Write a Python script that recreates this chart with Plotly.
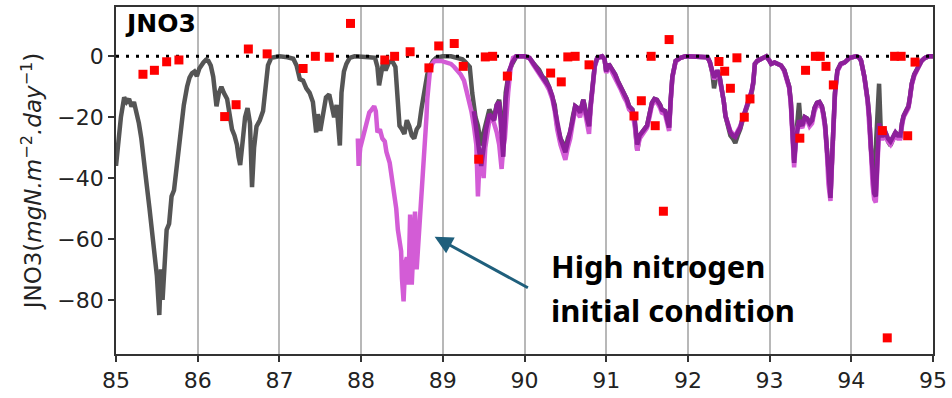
import plotly.graph_objects as go

# ---- Base run (grey): 85 -> ~89.9, then shared late-period grid ----
GREY_X_EARLY = [
    85.00, 85.03, 85.06, 85.10, 85.13, 85.16, 85.19, 85.22, 85.25, 85.28,
    85.31, 85.34, 85.375, 85.41, 85.44, 85.47, 85.50, 85.53, 85.55, 85.57,
    85.59, 85.62, 85.65, 85.68, 85.71, 85.74, 85.77, 85.80, 85.83, 85.87,
    85.90, 85.93, 85.96, 85.99, 86.02, 86.07, 86.10, 86.13, 86.16, 86.19,
    86.21, 86.23, 86.26, 86.29, 86.32, 86.36, 86.39, 86.42, 86.45, 86.48,
    86.50, 86.52, 86.55, 86.58, 86.61, 86.64, 86.665, 86.69, 86.72, 86.76,
    86.80, 86.83, 86.86, 86.90, 86.95, 87.00, 87.10, 87.17, 87.21, 87.25,
    87.29, 87.33, 87.37, 87.41, 87.45, 87.47, 87.50, 87.53, 87.57, 87.61,
    87.65, 87.67, 87.70, 87.72, 87.74, 87.76, 87.79, 87.82, 87.86, 87.92,
    88.00, 88.10, 88.17, 88.20, 88.22, 88.25, 88.27, 88.30, 88.34, 88.38,
    88.42, 88.45, 88.47, 88.50, 88.53, 88.56, 88.59, 88.62, 88.65, 88.68,
    88.71, 88.74, 88.78, 88.81, 88.84, 88.88, 88.92, 89.00, 89.10, 89.20,
    89.24, 89.28, 89.33, 89.36, 89.40, 89.43, 89.47, 89.50, 89.53, 89.57,
    89.60, 89.63, 89.66, 89.69, 89.72, 89.74, 89.77, 89.81, 89.85,
]
GREY_Y_EARLY = [
    -36, -28, -20, -13.5, -15, -14, -16.5, -15, -18, -22,
    -27, -33, -42, -50, -57, -65, -72, -85, -70, -80,
    -68, -57, -55, -46, -44, -38, -30, -23, -16, -10,
    -7, -5.6, -5, -6.5, -4, -2, -1.2, -1.5, -3, -6.7,
    -12, -16.4, -12, -10, -12, -14, -19, -24, -26, -29,
    -33, -35.7, -28, -20, -17, -22, -43, -30, -23, -21,
    -18, -10, -3, -0.5, -0.2, 0, -0.3, -0.8, -3, -7.5,
    -8, -10.5, -12, -15, -25, -19, -24.5, -20, -13.5, -12.5,
    -17, -20, -16, -22, -29.3, -12, -5, -2.5, -0.5, 0,
    0, -0.3, -0.5, -3.5, -9.5, -5, -2, -4.6, -2, -1.5,
    -3.5, -15, -22.8, -24, -25.5, -21, -23, -26, -27, -24,
    -22.8, -17, -10, -6, -3.5, -1.5, -0.5, 0, 0, -0.5,
    -1, -2, -3.5, -12, -20, -22.8, -29.3, -25, -21, -17.5,
    -19, -19.6, -16, -14.3, -22, -29.3, -12, -5, -2.5,
]

# ---- High nitrogen initial condition run (orchid), before the shared grid ----
HIGHN_X_EARLY = [
    87.96, 87.97, 87.99, 88.02, 88.04, 88.07, 88.10, 88.13, 88.16, 88.18,
    88.20, 88.23, 88.26, 88.29, 88.31, 88.35, 88.38, 88.41, 88.43, 88.45,
    88.47, 88.49, 88.50, 88.52, 88.54, 88.56, 88.58, 88.60, 88.62, 88.64,
    88.66, 88.68, 88.70, 88.72, 88.74, 88.76, 88.78, 88.80, 88.81, 88.84,
    88.87, 88.90, 88.98, 89.04, 89.10, 89.14, 89.18, 89.22, 89.26, 89.29,
    89.32, 89.35, 89.38, 89.41, 89.43, 89.45, 89.48, 89.50, 89.52, 89.54,
    89.57, 89.60, 89.63, 89.66, 89.69, 89.72, 89.74, 89.76, 89.80, 89.83,
    89.86,
]
HIGHN_Y_EARLY = [
    -27, -36, -30, -27, -25, -21, -18.5, -17.5, -16.4, -18,
    -25, -24, -27, -28, -31.4, -35, -40, -46.4, -50, -57,
    -60, -64, -73, -80.5, -68, -66, -75, -52, -75, -60,
    -51, -70, -62, -55, -46, -40, -30, -20, -14, -5.6,
    -2.5, -1.5, -1.5, -2, -2.5, -3.5, -4.6, -6, -8, -11,
    -14.3, -18, -22.8, -29, -46, -34, -33.5, -40, -30, -27,
    -21, -19.6, -22, -25, -29, -37, -30, -27, -12, -4,
    -0.5,
]

# ---- Second run (purple), before the shared grid ----
PURPLE_X_EARLY = [
    89.38, 89.41, 89.44, 89.47, 89.50, 89.53, 89.57, 89.60, 89.63, 89.66,
    89.69, 89.72, 89.74, 89.77, 89.81, 89.85,
]
PURPLE_Y_EARLY = [
    -18, -24, -31, -36, -30, -24, -19, -20, -21, -16,
    -15, -26, -33, -14, -5, -2,
]

# ---- Shared time grid for 89.9 -> 95 ----
LATE_X = [
    89.90, 90.00, 90.06, 90.10, 90.14, 90.18, 90.22, 90.26, 90.30, 90.34,
    90.37, 90.40, 90.44, 90.48, 90.50, 90.53, 90.56, 90.59, 90.62, 90.65,
    90.68, 90.72, 90.75, 90.79, 90.81, 90.83, 90.86, 90.89, 90.95, 90.98,
    91.00, 91.03, 91.08, 91.11, 91.14, 91.18, 91.22, 91.25, 91.28, 91.32,
    91.35, 91.38, 91.41, 91.44, 91.47, 91.50, 91.53, 91.56, 91.59, 91.62,
    91.66, 91.68, 91.72, 91.75, 91.77, 91.79, 91.81, 91.85, 91.91, 91.97,
    92.10, 92.24, 92.27, 92.30, 92.32, 92.34, 92.36, 92.39, 92.42, 92.44,
    92.46, 92.49, 92.52, 92.55, 92.58, 92.61, 92.64, 92.67, 92.70, 92.73,
    92.76, 92.78, 92.80, 92.82, 92.85, 92.88, 92.96, 93.00, 93.02, 93.06,
    93.10, 93.14, 93.18, 93.21, 93.24, 93.26, 93.28, 93.30, 93.32, 93.34,
    93.36, 93.38, 93.40, 93.43, 93.46, 93.49, 93.52, 93.55, 93.58, 93.61,
    93.64, 93.66, 93.68, 93.70, 93.72, 93.745, 93.77, 93.80, 93.83, 93.87,
    93.92, 93.98, 94.06, 94.10, 94.12, 94.16, 94.20, 94.22, 94.24, 94.26,
    94.28, 94.30, 94.32, 94.34, 94.36, 94.39, 94.42, 94.45, 94.48, 94.51,
    94.54, 94.57, 94.60, 94.62, 94.64, 94.67, 94.70, 94.72, 94.74, 94.77,
    94.80, 94.83, 94.86, 94.90, 94.95, 95.00,
]
GREY_Y_LATE = [
    0, 0, -0.5, -2, -3.5, -4.5, -6.7, -7.5, -10, -13,
    -16, -22.8, -27, -29, -31, -27, -25, -20, -16.4, -17,
    -18.5, -14.3, -18, -22.8, -16, -9, -3, -0.5, 0, -1,
    -5, -2.5, -4.6, -6, -8, -10, -12.5, -14, -16.4, -17.5,
    -22, -31, -26, -25, -24, -22.8, -19, -15.3, -14, -14.3,
    -16, -17.5, -18, -22, -23.4, -14, -6.7, -1.5, -0.5, 0,
    0, -0.3, -2, -5.6, -10.5, -6, -4.6, -7, -11, -15,
    -19.6, -23, -26, -27, -28.5, -26, -24, -21, -18.5, -16,
    -14.3, -12, -9, -2.5, -1.5, -1, 0, -1.5, -2.5, -2,
    -2.5, -3, -4.6, -7, -10, -15, -22.8, -34, -28, -22.8,
    -15.3, -22, -22.8, -20, -20.5, -22, -21, -17, -15.3, -15,
    -16.4, -19, -22.8, -30, -40, -46, -30, -12, -4.6, -2.5,
    -2, -0.5, 0, -0.5, -1.5, -6.7, -14.3, -20, -30, -38,
    -44, -30, -18, -9, -24, -26, -25, -28, -29.3, -27,
    -25, -26, -27, -22, -19.6, -18, -16.4, -13, -9, -6,
    -4.6, -3, -1.5, -0.5, 0, 0,
]
PURPLE_Y_LATE = [
    0, 0, -0.5, -2, -3.5, -5, -6.7, -8, -10, -13,
    -17, -22.8, -27, -30, -31.5, -28, -25, -21, -16.4, -17,
    -18.5, -14.3, -18.5, -23, -16, -9, -3, -0.5, 0, -1,
    -5, -2.5, -4.6, -6, -8, -10, -12.5, -14, -16.4, -17.5,
    -21, -29, -26, -25, -24, -22.8, -19, -15.3, -14, -14.3,
    -16, -17.5, -18, -22, -23.4, -14, -6.7, -1.5, -0.5, 0,
    0, -0.3, -2, -5, -7, -6, -4.6, -7, -11, -15,
    -19.6, -22.5, -25, -26, -26.5, -25, -23.5, -20.5, -18, -16,
    -14, -11.5, -8.5, -2.5, -1.5, -1, 0, -1.5, -2.5, -2,
    -2.5, -3, -4.6, -7, -10, -15, -23, -35, -28, -22.8,
    -21, -22, -22.8, -20, -20.5, -22, -21, -17, -15.3, -15,
    -16.4, -19, -22.8, -30, -40, -46.5, -30, -12, -4.6, -2.5,
    -2, -0.5, 0, -0.5, -1.5, -6.7, -14.3, -20, -30, -40,
    -45, -46, -30, -22, -26, -26, -25, -27, -28, -26.5,
    -25, -26, -26, -22, -19.6, -18, -16.4, -13, -9, -6,
    -4.6, -3, -1.5, -0.5, 0, 0,
]
HIGHN_Y_LATE = [
    0, 0, -0.5, -2.5, -4, -5.5, -7.5, -9, -11, -14,
    -18, -24, -29, -32, -34, -30, -27, -22, -17.5, -18.5,
    -20, -15.5, -20, -25.5, -17, -10, -3.5, -0.8, 0, -1,
    -5.5, -3, -5.5, -7, -9, -11, -13.5, -15, -17.5, -18.5,
    -23, -31, -27, -26, -25, -23.5, -20, -16, -15, -15,
    -17, -18.5, -19, -23, -24.5, -15, -7, -1.8, -0.5, 0,
    0, -0.3, -2, -5.5, -7.5, -6.5, -5, -7.5, -11.5, -15,
    -19.6, -22, -24.5, -25.5, -26, -24.5, -23, -20.5, -18, -16,
    -14, -11.5, -8.5, -2.5, -1.5, -1, 0, -1.5, -2.5, -2,
    -2.5, -3, -5, -7.5, -10.5, -16, -24, -36.5, -29, -23.5,
    -22, -23, -23.5, -21, -21, -23, -22, -18, -16, -16,
    -17, -20, -24, -31, -42, -47.5, -31, -13, -5, -2.8,
    -2, -0.5, 0, -0.5, -1.5, -7, -15, -21, -31, -42,
    -47, -48, -32, -24, -27, -27, -26, -28, -29, -27.5,
    -26, -27, -27, -23, -20, -18.5, -17, -13.5, -9.5, -6.5,
    -5, -3, -1.5, -0.5, 0, 0,
]

# ---- Observed fluxes (red squares) ----
OBS_X = [
    85.33, 85.47, 85.62, 85.77, 86.33, 86.47, 86.62, 86.85, 87.29, 87.44,
    87.61, 87.87, 88.29, 88.41, 88.60, 88.83, 88.95, 89.14, 89.25, 89.44,
    89.52, 89.61, 89.79, 90.32, 90.45, 90.53, 90.62, 90.79, 91.34, 91.43,
    91.55, 91.60, 91.70, 91.77, 92.38, 92.45, 92.52, 92.60, 92.69, 92.76,
    93.37, 93.44, 93.56, 93.62, 93.69, 93.78, 94.38, 94.44, 94.53, 94.61,
    94.69, 94.78,
]
OBS_Y = [
    -5.9, -4.6, -1.8, -1.2, -19.8, -15.9, 2.4, 0.8, -4.0, 0.0,
    -0.3, 10.8, -1.2, 0.0, 1.5, -3.8, 3.4, 4.2, -3.3, -33.8,
    -0.2, 0.0, -6.5, -5.5, -8.4, -0.2, 0.0, -2.8, -19.6, -14.6,
    0.0, -22.8, -50.9, 5.5, -1.7, -4.9, -10.5, -0.5, -20.0, -14.0,
    -26.9, -4.6, 0.0, 0.0, -3.3, -9.4, -24.4, -92.5, 0.0, 0.0,
    -26.1, -1.9,
]

X_TICKS = [85, 86, 87, 88, 89, 90, 91, 92, 93, 94, 95]
Y_TICKS = [-80, -60, -40, -20, 0]

GREY = "#555555"
ORCHID = "#d35cd6"
PURPLE = "#8d1f9b"
LINE_W = 4.5

fig = go.Figure()

fig.add_trace(go.Scatter(
    x=GREY_X_EARLY + LATE_X, y=GREY_Y_EARLY + GREY_Y_LATE,
    mode="lines", line=dict(color=GREY, width=LINE_W), showlegend=False,
))
fig.add_trace(go.Scatter(
    x=HIGHN_X_EARLY + LATE_X, y=HIGHN_Y_EARLY + HIGHN_Y_LATE,
    mode="lines", line=dict(color=ORCHID, width=LINE_W), showlegend=False,
))
fig.add_trace(go.Scatter(
    x=PURPLE_X_EARLY + LATE_X, y=PURPLE_Y_EARLY + PURPLE_Y_LATE,
    mode="lines", line=dict(color=PURPLE, width=LINE_W), showlegend=False,
))
# zero reference line
fig.add_trace(go.Scatter(
    x=[X_TICKS[0], X_TICKS[-1]], y=[0, 0], mode="lines",
    line=dict(color="black", width=3, dash="3px,7px"), showlegend=False,
))
fig.add_trace(go.Scatter(
    x=OBS_X, y=OBS_Y, mode="markers",
    marker=dict(symbol="square", size=9, color="#ff0000", line=dict(width=0)),
    showlegend=False,
))

axis_font = dict(family="DejaVu Sans", size=22, color="#222222")

fig.update_xaxes(
    range=[85, 95], tickvals=X_TICKS, ticktext=[str(t) for t in X_TICKS],
    showgrid=True, gridcolor="#b8b8b8", gridwidth=1.5, zeroline=False,
    showline=True, linecolor="#333333", linewidth=1.8, mirror=True,
    ticks="outside", ticklen=6, tickwidth=1.5, tickcolor="#333333",
    tickfont=axis_font,
)
fig.update_yaxes(
    range=[-97.8, 16.2], tickvals=Y_TICKS, showgrid=False, zeroline=False,
    showline=True, linecolor="#333333", linewidth=1.8, mirror=True,
    ticks="outside", ticklen=6, tickwidth=1.5, tickcolor="#333333",
    tickfont=axis_font,
    title=dict(
        text="JNO3(<i>mgN.m</i><sup>\u22122</sup><i>.day</i><sup>\u22121</sup>)",
        font=dict(family="DejaVu Sans", size=23, color="#222222"),
        standoff=9,
    ),
)

fig.add_annotation(
    xref="paper", yref="paper", x=0.008, y=1.0, xanchor="left", yanchor="top",
    text="<b>JNO3</b>", showarrow=False,
    font=dict(family="DejaVu Sans", size=25, color="black"),
)

# arrow pointing at the high-nitrogen run
fig.add_annotation(
    x=88.90, y=-59.3, ax=90.06, ay=-76.3, xref="x", yref="y",
    axref="x", ayref="y", text="", showarrow=True,
    arrowhead=2, arrowsize=1.2, arrowwidth=3, arrowcolor="#1f5f7c",
)
label_font = dict(family="Noto Sans", size=31, color="black")
fig.add_annotation(
    x=90.30, y=-68.9, xref="x", yref="y", xanchor="left", yanchor="middle",
    text="<b>High nitrogen</b>", showarrow=False, font=label_font,
)
fig.add_annotation(
    x=90.30, y=-83.4, xref="x", yref="y", xanchor="left", yanchor="middle",
    text="<b>initial condition</b>", showarrow=False, font=label_font,
)

fig.update_layout(
    width=952, height=398,
    margin=dict(l=116, r=18, t=5, b=38),
    paper_bgcolor="white", plot_bgcolor="white",
)

fig.write_html("out.html")
